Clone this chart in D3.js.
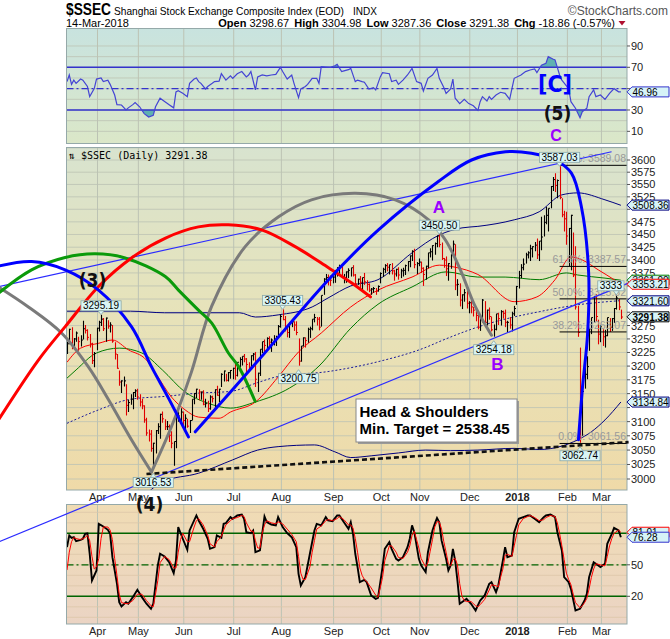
<!DOCTYPE html>
<html>
<head>
<meta charset="utf-8">
<script src="https://d3js.org/d3.v7.min.js"></script>
<title>$SSEC daily</title>
<style>
  body { margin: 0; background: #fff; }
  svg { display: block; font-family: "Liberation Sans", Arial, sans-serif; }
</style>
</head>
<body>
<div id="chart"></div>
<script>
// ---- header values
const hdrLabels = ["Open", "High", "Low", "Close", "Chg"];
const hdrValues = ["3298.67", "3304.98", "3287.36", "3291.38", "-18.86 (-0.57%)"];

// ---- months (trading-day index of first bar of each month)
const monthLabels = ["Apr", "May", "Jun", "Jul", "Aug", "Sep", "Oct", "Nov", "Dec", "2018", "Feb", "Mar"];
const monthIdx = [13, 31, 51, 73, 94, 117, 138, 155, 177, 198, 220, 235];

// ---- daily bars, 15-Mar-2017 .. 14-Mar-2018
const hi = [3245,3269,3272,3252,3264,3254,3257,3284,3276,3268,3259,3243,3226,
  3271,3284,3295.19,3289,3290,3285,3281,3276,3244,3222,3192,3174,3181,3167,3139,3149,3153,3158,
  3159,3149,3141,3129,3107,3086,3085,3063,3085,3097,3114,3118,3104,3101,3095,3083,3065,3111,3118,3124,
  3118,3113,3105,3103,3140,3151,3159,3158,3154,3156,3141,3137,3147,3146,3158,3164,3159,3187,3192,3186,3189,3193,
  3197,3207,3207,3216,3218,3222,3215,3207,3220,3224,3226,3188,3231,3245,3249,3253,3255,3251,3257,3256,3276,
  3296,3305.43,3293,3276,3280,3286,3283,3283,3251,3237,3253,3253,3271,3273,3287,3297,3291,3291,3332,3365,3373,3372,3370,
  3369,3380,3386,3391,3388,3373,3378,3384,3385,3390,3373,3364,3369,3366,3375,3361,3355,3346,3348,3346,3351,
  3376,3385,3392,3394,3391,3394,3381,3383,3386,3383,3385,3391,3398,3409,3419,3422,3396,
  3403,3397,3386,3389,3414,3423,3429,3434,3448,3450.5,3434,3404,3407,3394,3411,3438,3431,3363,3355,3334,3344,3341,
  3321,3323,3310,3307,3298,3290,3325,3321,3305,3309,3292,3277,3297,3299,3304,3303,3305,3284,3291,3301,3312,
  3350,3379,3392,3403,3414,3417,3430,3427,3435,3442,3437,3485,3488,3505,3502,3547,3565,3573,3560,3587.03,3522,3497,
  3495,3463,3489,3454,3427,3312,3234,3158,3206,3218,3270,3290,3331,3334,3286,
  3276,3268,3267,3290,3289,3289,3308,3333,3325,3305];
const lo = [3222,3240,3231,3230,3245,3228,3236,3249,3260,3247,3234,3204,3198,
  3229,3264,3274,3265,3245,3269,3262,3243,3212,3195,3164,3151,3163,3111,3117,3130,3122,3144,
  3139,3127,3122,3098,3075,3065,3047,3016.53,3044,3078,3070,3098,3085,3085,3064,3053,3023,3053,3100,3100,
  3089,3081,3089,3080,3102,3131,3142,3138,3139,3129,3125,3117,3121,3134,3122,3146,3135,3162,3172,3172,3172,3177,
  3176,3175,3181,3198,3201,3207,3184,3189,3193,3210,3162,3153,3182,3224,3225,3231,3232,3226,3238,3237,3252,
  3271,3285,3264,3253,3252,3272,3265,3257,3200.75,3208,3236,3234,3243,3252,3266,3281,3275,3266,3273,3333,3355,3351,3350,
  3355,3356,3368,3373,3365,3355,3356,3365,3368,3368,3349,3352,3344,3342,3352,3341,3338,3333,3337,3333,3339,
  3355,3367,3375,3378,3372,3372,3360,3368,3362,3365,3368,3371,3378,3386,3398,3384,3373,
  3388,3375,3350,3362,3384,3405,3399,3410,3425,3425,3400,3385,3369,3360,3383,3406,3342,3331,3311,3306,3320,3307,
  3298,3298,3292,3283,3268,3265,3281,3280,3275,3286,3264,3254.18,3266,3276,3275,3288,3272,3262,3269,3264,3293,
  3314,3345,3365,3380,3393,3403,3398,3405,3417,3402,3398,3419,3446,3470,3456,3502,3537,3535,3522,3520,3484,3456,
  3430,3388,3380,3367,3305,3254,3062.74,3075,3159,3176,3228,3259,3281,3283,3240,
  3244,3237,3234,3255,3263,3265,3280,3305,3304,3287];
const cl = [3241,3268,3237,3250,3261,3245,3248,3269,3266,3253,3241,3210,3223,
  3270,3281,3287,3269,3289,3274,3276,3246,3222,3196,3171,3173,3173,3129,3134,3140,3152,3155,
  3144,3135,3128,3103,3080,3078,3053,3062,3084,3091,3113,3105,3091,3091,3076,3062,3065,3108,3110,3117,
  3102,3106,3092,3102,3140,3150,3158,3153,3153,3131,3132,3123,3144,3141,3157,3147,3158,3185,3191,3174,3188,3192,
  3196,3183,3207,3212,3218,3213,3203,3198,3219,3222,3176,3187,3231,3245,3238,3251,3244,3248,3250,3253,3273,
  3292,3286,3272,3262,3280,3282,3276,3262,3209,3237,3252,3247,3268,3269,3287,3290,3287,3272,3332,3363,3366,3364,3361,
  3367,3380,3385,3386,3366,3366,3377,3380,3385,3371,3354,3363,3357,3366,3358,3353,3342,3344,3345,3340,3349,
  3374,3382,3389,3386,3391,3379,3373,3382,3371,3379,3380,3389,3397,3408,3417,3391,3393,
  3396,3384,3372,3388,3414,3416,3428,3432,3447,3430,3403,3400,3383,3393,3410,3431,3352,3353,3323,3333,3337,3317,
  3318,3310,3304,3294,3272,3290,3323,3281,3304,3292,3267,3268,3297,3288,3301,3298,3281,3281,3276,3297,3307,
  3349,3370,3385,3392,3410,3414,3422,3426,3429,3410,3437,3445,3474,3488,3502,3546,3560,3548,3558,3524,3489,3481,
  3447,3462,3488,3371,3310,3262,3129,3154,3185,3199,3269,3290,3329,3292,3259,
  3273,3254,3256,3290,3272,3288,3307,3327,3310,3291];

// ---- overlays: [day, value]
const maRed = [[0,3207],[6,3233],[14,3242],[20,3248],[27,3230],[35,3211],[39,3187],[46,3144],[52,3121],[58,3108],
  [67,3106],[72,3117],[83,3135],[93,3180],[102,3226],[112,3261],[125,3310],[137,3342],[152,3367],[164,3390],
  [171,3386],[181,3372],[197,3320],[207,3329],[215,3362],[222,3406],[227,3400],[234,3381],[241,3362],[244,3353]];
const maGreen = [[0,3178],[4,3193],[13,3224],[23,3233],[33,3224],[42,3193],[52,3153],[62,3133],[72,3124],[83,3135],
  [98,3160],[111,3200],[125,3270],[137,3315],[152,3348],[167,3377],[181,3367],[193,3367],[208,3362],[220,3375],
  [225,3371],[237,3365],[244,3361]];
const bandUp = [[0,3302],[28,3302],[43,3299],[76,3299],[83,3291],[93,3295],[108,3310],[115,3327],[125,3350],[137,3362],
  [152,3414],[164,3449],[174,3463],[181,3466],[197,3479],[208,3495],[218,3529],[225,3533],[237,3519],[244,3508]];
const bandLo = [[35,2975],[42,2995],[58,3010],[73,3033],[84,3050],[93,3056],[109,3059],[118,3047],[125,3037],[134,3040],
  [146,3045],[158,3050],[169,3049],[181,3050],[197,3053],[208,3051],[218,3057],[225,3068],[231,3082],[237,3103],[244,3135]];
const maDotted = [[0,3097],[14,3121],[28,3140],[43,3145],[58,3151],[72,3154],[84,3170],[93,3181],[115,3190],[137,3208],
  [159,3236],[164,3245],[186,3279],[208,3301],[225,3314],[244,3322]];

// ---- fibonacci retracement
const fibPct = ["100.0%", "61.8%", "50.0%", "38.2%", "0.0%"];
const fibVal = [3589.08, 3387.57, 3325.32, 3263.07, 3061.56];
const fibStart = 217;

// ---- price callouts
const calloutDay = [15, 38, 95, 102, 164, 188, 217, 226, 242];
const calloutVal = [3295.19, 3016.53, 3305.43, 3200.75, 3450.50, 3254.18, 3587.03, 3062.74, 3333];
const calloutTxt = ["3295.19", "3016.53", "3305.43", "3200.75", "3450.50", "3254.18", "3587.03", "3062.74", "3333"];
const calloutUp = [true, false, true, false, true, false, true, false, true];

// ---- drawn annotations [day, price]
const trendUpper = [[-30.2, 3348.6], [239.9, 3617]];
const trendLower = [[-30.2, 2894], [251.8, 3363.6]];
const trendDashed = [[35, 3008.6], [247.4, 3063.9]];
const arcBlue1 = [[-30.2,3388],[-15.6,3397],[-0.8,3381],[13.9,3342],[28.4,3273],[37.2,3199],[44.7,3142],[53.5,3073]];
const arcBlue2 = [[56.5,3082],[84.4,3211],[115.2,3362],[137.2,3459],[163.6,3556],[178.2,3600],[193.2,3617],
  [204.6,3614],[215.1,3600],[222.2,3573],[226.6,3505],[229.8,3375],[229.3,3257],[227.1,3162],[225.3,3068]];
const arcRed = [[-30.2,3103],[-12.6,3211],[-0.8,3273],[13.9,3349],[28.4,3404],[43.4,3443],[57.9,3465],[71.1,3469],
  [85.7,3459],[100.5,3426],[115.2,3385],[125.3,3356],[133.7,3329]];
const arcGreen = [[-30.2,3336],[-15.6,3381],[-0.8,3405],[12.4,3412],[25.6,3404],[43.3,3368],[49.1,3342],[57.9,3304],
  [63.7,3280],[71.1,3224],[75.6,3199],[82.9,3136]];
const arcGray1 = [[-30.2,3348],[-17,3310],[-2.4,3261],[9.5,3198],[18.3,3139],[28.4,3068],[37.2,3012]];
const arcGray2 = [[37.2,3012],[46,3091],[54.8,3189],[63.7,3311],[78.5,3426],[93.2,3485],[107.7,3519],[127,3532],
  [144.6,3519],[159.3,3479],[166.7,3439],[173.3,3381],[179.5,3314],[187,3257]];

// ---- RSI(14): [day, value]
const rsi = [[0,56.6],[1,62.8],[2,54],[3,58],[4,55],[6,59],[7,58],[9,52],[10,42.5],[12,50],[13,59],[15,60],[16,56.6],
  [18,58],[19,54],[21,44],[22,35],[24,34.7],[26,30],[27,32],[29,35],[30,37],[32,33],[34,26.6],[36,23.4],[38,25],
  [39,33],[41,41],[43,38],[45,35],[47,32],[48,47],[49,48],[51,45.6],[53,42.5],[54,55],[56,59],[57,60],[58,56.6],
  [59,55],[61,49.7],[62,52],[64,55],[65,56.6],[67,57],[68,64],[70,58],[72,62],[73,59.7],[75,64],[77,66],[79,61],
  [80,62.8],[81,66],[83,48.8],[84,61],[86,62.8],[88,62],[90,62.8],[92,63.4],[94,70],[95,66],[97,59],[99,62.8],
  [100,55],[102,41.6],[103,49.7],[105,52],[106,54],[108,59.7],[110,59.7],[111,55],[112,70.6],[114,70.3],[116,70],
  [118,71.5],[119,72.8],[121,66],[122,66.6],[124,67.8],[125,69],[127,56.6],[128,58],[130,56.6],[131,56],[133,49.7],
  [135,51],[136,48.8],[138,61],[139,65],[142,64],[143,56.6],[145,58],[146,54],[148,58],[150,62.8],[152,69],
  [154,56.6],[156,55],[157,47.8],[159,59.7],[161,62.8],[163,69],[164,59.7],[166,51],[167,45.6],[169,49.7],[170,59],
  [171,41],[173,36],[175,40],[177,36],[179,34],[181,29.7],[182,37.8],[183,42.5],[185,38.4],[186,42.5],[187,40],
  [189,44],[191,46.6],[193,45.6],[195,40],[196,50],[197,59.7],[200,62.8],[202,66],[204,67.5],[206,68.4],[207,65],
  [209,72],[211,73.8],[212,80],[214,77.8],[215,77],[217,62.8],[218,58],[221,50],[222,37.8],[224,31.6],[226,22.8],
  [227,28.4],[229,31.6],[230,42.5],[232,48.8],[233,42.5],[235,44],[237,40],[239,45.6],[241,50],[243,47],[244,46.96]];

// ---- Slow stochastic %K (black) and %D (red): [day, value]
const stochK = [[0,66.8],[1,78],[2,75.7],[3,76.3],[4,72.5],[6,73.8],[7,74.8],[8,79.5],[9,80],[10,60.5],[11,35],
  [13,44.6],[14,89],[16,86.5],[18,83.3],[19,79.5],[20,57.3],[22,32],[23,14.4],[24,10.3],[26,14.4],[27,12.9],[29,19.2],
  [31,26.2],[33,19.2],[35,12.9],[37,8.1],[38,12.9],[40,49.4],[41,60.5],[43,58],[45,52.5],[47,42],[48,54],[49,85.9],
  [51,74.8],[53,64.3],[54,82.7],[57,97],[58,92.2],[60,84.3],[62,74.8],[63,65.2],[65,66.8],[66,78],[68,75.7],[69,89],
  [70,89.7],[72,95.4],[73,93.8],[75,97],[77,97.9],[78,93.8],[79,81.1],[81,80.2],[82,82.7],[83,62],[85,63.7],[87,96],
  [88,90.6],[90,88.4],[92,87.5],[93,95.4],[95,85.9],[97,80.2],[99,76.3],[101,66.8],[102,41.4],[103,30.3],[105,38.3],
  [107,60.5],[109,82.7],[110,89],[112,87.5],[114,95.4],[115,92.2],[117,91.6],[119,97],[120,97],[122,90.6],[124,84.3],
  [125,90.6],[126,79.5],[127,60.5],[128,47.8],[129,33.5],[131,35.7],[132,33.5],[134,20.8],[136,17.6],[137,18.6],
  [139,47.8],[140,65.2],[142,71.6],[143,65.2],[145,55.7],[146,54],[148,57.3],[150,66.8],[151,74.8],[152,87.5],
  [153,81.1],[155,55.7],[156,49.4],[158,43],[159,62],[161,82.7],[162,89],[163,94.6],[164,90.6],[165,73.2],[167,55.7],
  [168,44.6],[169,49.4],[170,65.2],[171,54],[172,35],[173,12.9],[175,16],[176,17.6],[178,12.9],[180,6.5],[181,11.3],
  [182,16],[184,20.8],[186,31.9],[187,33.5],[189,24],[190,30.3],[192,54],[193,66.8],[194,57.3],[196,58.9],[197,81.1],
  [199,93.8],[201,95.4],[203,97],[204,97],[206,93.8],[208,90.6],[210,95.4],[211,97],[213,97.9],[215,95.4],[216,81.1],
  [218,63.7],[219,38.3],[221,33.5],[222,27.1],[224,6.5],[226,8.1],[228,16],[229,22.4],[230,38.3],[232,52.5],[233,51],
  [235,47.8],[237,51],[238,70],[240,79.5],[241,85.2],[243,82.7],[244,76.28]];
const stochD = [[0,45],[1,62],[2,72],[3,76],[4,75],[6,74],[8,76],[9,78],[10,73],[11,58],[12,46],[13,48],[14,56],[15,75],
  [16,86],[18,86],[19,83],[20,74],[21,56],[22,40],[23,22],[24,14],[26,13],[27,13],[29,16],[31,22],[33,22],[35,16],
  [37,11],[38,10],[39,22],[40,35],[41,52],[43,58],[45,55],[47,47],[48,47],[49,62],[50,74],[51,80],[53,72],[54,72],
  [56,86],[57,92],[58,94],[60,88],[62,78],[63,70],[65,67],[66,72],[68,77],[69,83],[70,88],[72,92],[73,94],[75,95],
  [77,97],[78,96],[79,90],[81,82],[82,82],[83,73],[84,66],[85,66],[86,80],[87,88],[88,92],[90,90],[92,89],[93,91],
  [95,89],[97,84],[99,79],[101,72],[102,58],[103,42],[104,36],[105,36],[107,48],[108,62],[109,73],[110,84],[112,87],
  [114,92],[115,93],[117,92],[119,94],[120,96],[122,93],[124,88],[125,88],[126,85],[127,75],[128,62],[129,47],[130,40],
  [131,36],[132,34],[134,28],[136,21],[137,19],[138,28],[139,38],[140,54],[142,68],[143,68],[145,62],[146,57],[148,56],
  [150,62],[151,68],[152,78],[153,82],[154,74],[155,66],[156,56],[158,48],[159,52],[160,63],[161,74],[162,86],[163,91],
  [164,91],[165,84],[166,72],[167,62],[168,51],[169,49],[170,55],[171,56],[172,50],[173,32],[174,20],[175,16],[176,15],
  [178,15],[180,11],[181,10],[182,12],[184,17],[186,26],[187,31],[189,30],[190,29],[191,38],[192,46],[193,59],[194,60],
  [196,58],[197,68],[198,78],[199,88],[201,94],[203,96],[204,97],[206,95],[208,92],[210,93],[211,95],[213,97],[215,96],
  [216,90],[217,80],[218,68],[219,55],[220,42],[221,36],[222,31],[223,22],[224,14],[226,9],[227,11],[228,14],[229,18],
  [230,27],[231,38],[232,46],[233,51],[235,50],[237,49],[238,58],[239,68],[240,75],[241,80],[243,83],[244,81.01]];

// ---- right-edge value tags
const tagVal = [3508.36, 3361.00, 3353.21, 3321.60, 3291.38, 3134.84];
const tagColor = ["#000080", "#008000", "#ff0000", "#000080", "#000000", "#000080"];

// ================= drawing =================
const W = 670, H = 639;
const L = 66.5, R = 627;
const rsiTop = 28.5, rsiBot = 143.5, mainTop = 147.5, mainBot = 490, stTop = 504.5, stBot = 624;

const svg = d3.select("#chart").append("svg").attr("width", W).attr("height", H);
const defs = svg.append("defs");

const x = d3.scaleLinear().domain([0, 244]).range([67, 67 + 244 * 2.27]);
const y = d3.scaleLog().domain([3000, 3600]).range([479, 160]);
const yR = d3.scaleLinear().domain([0, 100]).range([142, 35.3]);
const yS = d3.scaleLinear().domain([0, 100]).range([617.3, 512.3]);

function grad(id, stops) {
  const g = defs.append("linearGradient").attr("id", id).attr("x1", 0).attr("x2", 0).attr("y1", 0).attr("y2", 1);
  stops.forEach(s => g.append("stop").attr("offset", s[0]).attr("stop-color", s[1]));
}
grad("gRsi", [[0, "#c8e3df"], [1, "#dbe7c8"]]);
grad("gMain", [[0, "#d8e3cf"], [0.45, "#e6e3bb"], [1, "#efdaa8"]]);
grad("gSt", [[0, "#f0dcb4"], [1, "#ebd4c4"]]);

function clip(id, y0, y1) {
  defs.append("clipPath").attr("id", id).append("rect").attr("x", L).attr("y", y0).attr("width", R - L).attr("height", y1 - y0);
}
clip("cRsi", rsiTop, rsiBot);
clip("cMain", mainTop, mainBot);
clip("cSt", stTop, stBot);
clip("cRsiHi", rsiTop, yR(70));
clip("cRsiLo", yR(30), rsiBot);

// panel backgrounds
[[rsiTop, rsiBot, "gRsi"], [mainTop, mainBot, "gMain"], [stTop, stBot, "gSt"]].forEach(p => {
  svg.append("rect").attr("x", L).attr("y", p[0]).attr("width", R - L).attr("height", p[1] - p[0])
    .attr("fill", "url(#" + p[2] + ")");
});

// grids
const gridC = "#bcc3b4";
function vgrid(y0, y1) {
  svg.append("g").selectAll("line").data(monthIdx).join("line")
    .attr("x1", d => x(d) + 1).attr("x2", d => x(d) + 1).attr("y1", y0).attr("y2", y1)
    .attr("stroke", gridC).attr("stroke-width", 1);
}
vgrid(rsiTop, rsiBot); vgrid(mainTop, mainBot); vgrid(stTop, stBot);

svg.append("g").selectAll("line").data(d3.range(10, 100, 10)).join("line")
  .attr("x1", L).attr("x2", R).attr("y1", d => yR(d)).attr("y2", d => yR(d))
  .attr("stroke", gridC).attr("stroke-width", 0.8);
svg.append("g").selectAll("line").data(d3.range(3000, 3626, 25)).join("line")
  .attr("x1", L).attr("x2", R).attr("y1", d => y(d)).attr("y2", d => y(d))
  .attr("stroke", gridC).attr("stroke-width", 0.8);
svg.append("g").selectAll("line").data(d3.range(0, 110, 10)).join("line")
  .attr("x1", L).attr("x2", R).attr("y1", d => yS(d)).attr("y2", d => yS(d))
  .attr("stroke", "#dcc6a8").attr("stroke-width", 0.8);

// ---- RSI panel
const gR = svg.append("g").attr("clip-path", "url(#cRsi)");
const rsiArea = (base) => d3.area().x(d => x(d[0])).y0(yR(base)).y1(d => yR(d[1]));
gR.append("g").attr("clip-path", "url(#cRsiHi)").append("path").datum(rsi)
  .attr("d", rsiArea(70)).attr("fill", "#5fb1b1");
gR.append("g").attr("clip-path", "url(#cRsiLo)").append("path").datum(rsi)
  .attr("d", rsiArea(30)).attr("fill", "#5fb1b1");
[70, 30].forEach(v => gR.append("line").attr("x1", L).attr("x2", R).attr("y1", yR(v)).attr("y2", yR(v))
  .attr("stroke", "#3333cc").attr("stroke-width", 1.4));
gR.append("line").attr("x1", L).attr("x2", R).attr("y1", yR(50)).attr("y2", yR(50))
  .attr("stroke", "#3333cc").attr("stroke-width", 1.2).attr("stroke-dasharray", "7,3,2,3");
gR.append("path").datum(rsi)
  .attr("d", d3.line().x(d => x(d[0])).y(d => yR(d[1])))
  .attr("fill", "none").attr("stroke", "#4444d4").attr("stroke-width", 1.2);

// ---- stochastic panel
const gS = svg.append("g").attr("clip-path", "url(#cSt)");
[80, 20].forEach(v => gS.append("line").attr("x1", L).attr("x2", R).attr("y1", yS(v)).attr("y2", yS(v))
  .attr("stroke", "#006400").attr("stroke-width", 1.4));
gS.append("line").attr("x1", L).attr("x2", R).attr("y1", yS(50)).attr("y2", yS(50))
  .attr("stroke", "#006400").attr("stroke-width", 1.2).attr("stroke-dasharray", "7,3,2,3");
const sLine = d3.line().x(d => x(d[0])).y(d => yS(d[1]));
gS.append("path").datum(stochK).attr("d", sLine).attr("fill", "none").attr("stroke", "#000").attr("stroke-width", 1.9);
gS.append("path").datum(stochD).attr("d", sLine).attr("fill", "none").attr("stroke", "#ff0000").attr("stroke-width", 1);

// ---- price panel
const gM = svg.append("g").attr("clip-path", "url(#cMain)");
const pLine = d3.line().x(d => x(d[0])).y(d => y(d[1])).curve(d3.curveMonotoneX);
gM.append("path").datum(maDotted).attr("d", pLine).attr("fill", "none")
  .attr("stroke", "#1a1a99").attr("stroke-width", 1).attr("stroke-dasharray", "2,2");
gM.append("path").datum(bandUp).attr("d", pLine).attr("fill", "none").attr("stroke", "#000080").attr("stroke-width", 1);
gM.append("path").datum(bandLo).attr("d", pLine).attr("fill", "none").attr("stroke", "#000080").attr("stroke-width", 1);
gM.append("path").datum(maGreen).attr("d", pLine).attr("fill", "none").attr("stroke", "#007a00").attr("stroke-width", 1);
gM.append("path").datum(maRed).attr("d", pLine).attr("fill", "none").attr("stroke", "#ff0000").attr("stroke-width", 1);

const bars = gM.append("g");
cl.forEach((c, i) => {
  const col = i > 0 && c < cl[i - 1] ? "#e00000" : "#000";
  const bx = Math.round(x(i)) + 0.5;
  bars.append("line").attr("x1", bx).attr("x2", bx).attr("y1", y(hi[i])).attr("y2", y(lo[i]))
    .attr("stroke", col).attr("stroke-width", 1.1);
  bars.append("line").attr("x1", bx).attr("x2", bx + 1.5).attr("y1", y(c)).attr("y2", y(c))
    .attr("stroke", col).attr("stroke-width", 1);
});

// fibonacci
fibVal.forEach((v, k) => {
  gM.append("line").attr("x1", x(fibStart)).attr("x2", R).attr("y1", y(v)).attr("y2", y(v))
    .attr("stroke", "#000").attr("stroke-width", 1);
  gM.append("text").attr("x", R - 1).attr("y", y(v) - 3).attr("text-anchor", "end")
    .style("font-size", "10.5px").attr("fill", "#9a9a9a").text(fibPct[k] + ": " + v.toFixed(2));
});

// panel borders
[[rsiTop, rsiBot], [mainTop, mainBot], [stTop, stBot]].forEach(p => {
  svg.append("rect").attr("x", L).attr("y", p[0]).attr("width", R - L).attr("height", p[1] - p[0])
    .attr("fill", "none").attr("stroke", "#95a9a9").attr("stroke-width", 1);
});

// axis labels (a label sitting right under a value tag is covered, as on the original)
function rightAxis(vals, sc, tagYs) {
  const g = svg.append("g");
  vals.forEach(v => {
    g.append("line").attr("x1", R).attr("x2", R + 3).attr("y1", sc(v)).attr("y2", sc(v)).attr("stroke", "#555");
    if (tagYs.some(t => Math.abs(t - sc(v)) < 7)) return;
    g.append("text").attr("x", R + 4).attr("y", sc(v) + 4).style("font-size", "11px").attr("fill", "#222").text(v);
  });
}
rightAxis([90, 70, 50, 30, 10], yR, [yR(46.96)]);
rightAxis(d3.range(3000, 3601, 25), y, tagVal.map(v => y(v)));
rightAxis([80, 50, 20], yS, [yS(81.01), yS(76.28)]);

[mainBot + 11, stBot + 11].forEach(yy => {
  svg.append("g").selectAll("text").data(monthLabels).join("text")
    .attr("x", (d, k) => x(monthIdx[k]) + 1).attr("y", yy).attr("text-anchor", "middle")
    .style("font-size", "11px").style("font-weight", d => d === "2018" ? "bold" : "normal")
    .attr("fill", "#222").text(d => d);
});

// ---- hand-drawn annotations
const ann = svg.append("g");
const straight = d3.line().x(d => x(d[0])).y(d => y(d[1]));
ann.append("path").attr("d", straight(trendUpper)).attr("stroke", "#2b2bff").attr("stroke-width", 1.2).attr("fill", "none");
ann.append("path").attr("d", straight(trendLower)).attr("stroke", "#2b2bff").attr("stroke-width", 1.2).attr("fill", "none");
ann.append("path").attr("d", straight(trendDashed)).attr("stroke", "#111").attr("stroke-width", 2.6)
  .attr("stroke-dasharray", "5,3").attr("fill", "none");
const arc = d3.line().x(d => x(d[0])).y(d => y(d[1])).curve(d3.curveCatmullRom.alpha(0.5));
[[arcGray1, "#7a7a7a"], [arcGray2, "#7a7a7a"], [arcGreen, "#0a9a0a"], [arcRed, "#ff0000"],
 [arcBlue1, "#0000ff"], [arcBlue2, "#0000ff"]].forEach(a => {
  ann.append("path").attr("d", arc(a[0])).attr("stroke", a[1]).attr("stroke-width", 3)
    .attr("fill", "none").attr("stroke-linecap", "round");
});

// callouts (box kept inside the price panel, pointer stays on the bar)
calloutVal.forEach((v, k) => {
  const cx = x(calloutDay[k]);
  const up = calloutUp[k];
  const by = up ? y(v) - 4 - 10 : y(v) + 8;
  const g = svg.append("g");
  const t = g.append("text").attr("y", by + 8.5).attr("text-anchor", "middle")
    .style("font-size", "10px").attr("fill", "#000").text(calloutTxt[k]);
  const w = t.node().getComputedTextLength() + 4;
  const bx = Math.min(cx, R - 3 - w / 2);
  t.attr("x", bx);
  g.insert("rect", "text").attr("x", bx - w / 2).attr("y", by).attr("width", w).attr("height", 10)
    .attr("fill", "#d9f5f5").attr("stroke", "#8aa7a7").attr("stroke-width", 0.8);
  const py = up ? by + 10 : by;
  const tip = up ? py + 4 : py - 4;
  g.insert("path", "text").attr("d", `M${cx - 3},${py} L${cx},${tip} L${cx + 3},${py} Z`)
    .attr("fill", "#d9f5f5").attr("stroke", "#8aa7a7").attr("stroke-width", 0.8);
});

// wave labels
const waveFont = "'Liberation Sans Narrow','DejaVu Sans Condensed',Arial,sans-serif";
function wave(txt, cx, by, size, col, fam) {
  svg.append("text").attr("x", cx).attr("y", by).attr("text-anchor", "middle")
    .style("font-family", fam || waveFont).style("font-size", size + "px").style("font-weight", "bold")
    .attr("fill", col).text(txt);
}
wave("(3)", 92.5, 287, 19, "#111");
wave("(4)", 149.5, 511, 19, "#111");
wave("[C]", 555, 92, 23, "#0000ff");
wave("(5)", 557.5, 119.5, 19, "#111");
wave("C", 556, 141, 16, "#9a00ff", "'Liberation Sans',Arial,sans-serif");
wave("A", 439, 213, 17, "#9a00ff", "'Liberation Sans',Arial,sans-serif");
wave("B", 497.5, 370, 17, "#9a00ff", "'Liberation Sans',Arial,sans-serif");

// head & shoulders note
svg.append("rect").attr("x", 358).attr("y", 401).attr("width", 161).attr("height", 43).attr("fill", "#9a9a9a");
svg.append("rect").attr("x", 356).attr("y", 399).attr("width", 161).attr("height", 43)
  .attr("fill", "#fff").attr("stroke", "#888").attr("stroke-width", 1);
svg.append("text").attr("x", 359.5).attr("y", 416.5).style("font-size", "15px").style("font-weight", "bold")
  .text("Head & Shoulders");
svg.append("text").attr("x", 359.5).attr("y", 434).style("font-size", "15px").style("font-weight", "bold")
  .text("Min. Target = 2538.45");

// right value tags
function tag(yc, txt, stroke, bold) {
  const g = svg.append("g");
  g.append("path").attr("d", `M${R},${yc} L${R + 5},${yc - 5} L669,${yc - 5} L669,${yc + 5} L${R + 5},${yc + 5} Z`)
    .attr("fill", "#d6f3f7").attr("stroke", stroke).attr("stroke-width", 1);
  g.append("text").attr("x", R + 5.5).attr("y", yc + 3.7).style("font-size", "10px")
    .style("font-weight", bold ? "bold" : "normal").attr("fill", "#000").text(txt);
}
tagVal.forEach((v, k) => tag(y(v), v.toFixed(2), tagColor[k], k === 4));
tag(yR(46.96), "46.96", "#3333cc", false);
tag(yS(81.01), "81.01", "#ff0000", false);
tag(yS(76.28), "76.28", "#3333cc", false);

// ---- header
svg.append("text").attr("x", 66).attr("y", 15).style("font-size", "16px").style("font-weight", "bold")
  .attr("textLength", 45).attr("lengthAdjust", "spacingAndGlyphs").text("$SSEC");
svg.append("text").attr("x", 114).attr("y", 14.5).style("font-size", "11px")
  .attr("textLength", 230).attr("lengthAdjust", "spacingAndGlyphs")
  .text("Shanghai Stock Exchange Composite Index (EOD)");
svg.append("text").attr("x", 353).attr("y", 14.5).style("font-size", "10px").text("INDX");
svg.append("text").attr("x", 668).attr("y", 14.5).attr("text-anchor", "end").style("font-size", "12px")
  .attr("fill", "#555").text("\u00a9StockCharts.com");
svg.append("text").attr("x", 66).attr("y", 26.5).style("font-size", "11px").text("14-Mar-2018");
const hdr = svg.append("text").attr("x", 615).attr("y", 26.5).attr("text-anchor", "end").style("font-size", "11px");
hdrLabels.forEach((lab, k) => {
  hdr.append("tspan").attr("dx", k ? 5 : 0).style("font-weight", "bold").text(lab);
  hdr.append("tspan").text("\u00a0" + hdrValues[k]);
});
svg.append("path").attr("d", "M618.5,21 L625.5,21 L622,25.5 Z").attr("fill", "#b01030");

// panel title inside price chart
svg.append("text").attr("x", 69).attr("y", 159).style("font-family", "'DejaVu Sans Mono',monospace")
  .style("font-size", "10px").text("\u21c5 $SSEC (Daily) 3291.38");
</script>
</body>
</html>
